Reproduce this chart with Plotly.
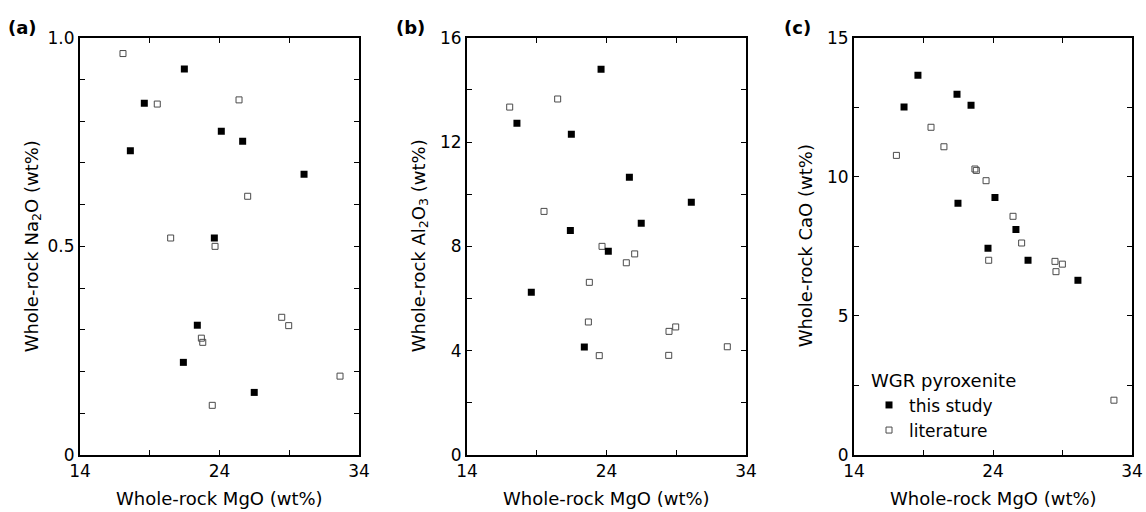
import plotly.graph_objects as go

# Whole-rock MgO (wt%) and oxide contents, WGR pyroxenites
# (a) Na2O
na_study_mgo = [21.48, 18.61, 17.61, 24.13, 25.66, 30.06, 23.63, 22.41, 21.41, 26.49]
na_study_val = [0.925, 0.843, 0.729, 0.776, 0.752, 0.673, 0.520, 0.311, 0.222, 0.150]
na_lit_mgo = [17.08, 19.54, 25.40, 26.02, 20.50, 23.68, 28.46, 28.96, 22.70, 22.80, 32.64, 23.48]
na_lit_val = [0.962, 0.841, 0.851, 0.620, 0.520, 0.500, 0.330, 0.310, 0.280, 0.270, 0.189, 0.119]

# (b) Al2O3
al_study_mgo = [23.61, 17.58, 21.48, 25.64, 30.08, 26.49, 21.41, 24.13, 18.61, 22.41]
al_study_val = [14.79, 12.72, 12.30, 10.65, 9.69, 8.89, 8.61, 7.81, 6.24, 4.14]
al_lit_mgo = [17.06, 20.50, 19.52, 23.68, 25.42, 26.02, 22.77, 22.70, 28.48, 28.96, 23.48, 28.46, 32.66]
al_lit_val = [13.34, 13.65, 9.34, 8.00, 7.37, 7.71, 6.62, 5.10, 4.74, 4.91, 3.81, 3.82, 4.15]

# (c) CaO
ca_study_mgo = [18.60, 17.60, 21.41, 22.42, 24.14, 21.48, 25.65, 23.64, 26.52, 30.11]
ca_study_val = [13.65, 12.51, 12.97, 12.57, 9.26, 9.05, 8.11, 7.43, 7.00, 6.28]
ca_lit_mgo = [17.05, 19.54, 20.47, 22.70, 22.80, 23.50, 25.44, 26.06, 23.69, 28.46, 28.99, 28.53, 32.70]
ca_lit_val = [10.77, 11.78, 11.08, 10.28, 10.23, 9.86, 8.58, 7.62, 7.00, 6.96, 6.86, 6.59, 1.97]

x_ticks = [14, 19, 24, 29, 34]
x_ticktext = ["14", "", "24", "", "34"]

na_ticks = [0, 0.1, 0.2, 0.3, 0.4, 0.5, 0.6, 0.7, 0.8, 0.9, 1.0]
na_ticktext = ["0", "", "", "", "", "0.5", "", "", "", "", "1.0"]
al_ticks = [0, 2, 4, 6, 8, 10, 12, 14, 16]
al_ticktext = ["0", "", "4", "", "8", "", "12", "", "16"]
ca_ticks = [0, 2.5, 5, 7.5, 10, 12.5, 15]
ca_ticktext = ["0", "", "5", "", "10", "", "15"]

FONT = "DejaVu Sans"
FS = 18       # titles and legend title
FS_TICK = 17  # tick labels and legend entries
W, H = 1146, 512

study_marker = dict(symbol="square", size=7, color="black", line=dict(width=0))
lit_marker = dict(symbol="square-open", size=6, color="#4a4a4a", line=dict(width=1, color="#4a4a4a"))

fig = go.Figure()

panels = [
    ("x", "y", na_study_mgo, na_study_val, na_lit_mgo, na_lit_val, False),
    ("x2", "y2", al_study_mgo, al_study_val, al_lit_mgo, al_lit_val, False),
    ("x3", "y3", ca_study_mgo, ca_study_val, ca_lit_mgo, ca_lit_val, True),
]
for xa, ya, sx, sy, lx, ly, show in panels:
    fig.add_trace(go.Scatter(x=lx, y=ly, mode="markers", marker=lit_marker,
                             name="literature", xaxis=xa, yaxis=ya,
                             showlegend=show, legendrank=2))
    fig.add_trace(go.Scatter(x=sx, y=sy, mode="markers", marker=study_marker,
                             name="this study", xaxis=xa, yaxis=ya,
                             showlegend=show, legendrank=1))

x_domains = [(80 / W, 359 / W), (467 / W, 746 / W), (854 / W, 1132 / W)]
y_domain = [1 - 455 / H, 1 - 37.7 / H]

common_axis = dict(
    showgrid=False, zeroline=False, showline=True, linecolor="black", linewidth=2,
    mirror="ticks", ticks="inside", ticklen=5, tickwidth=1, tickcolor="black",
    tickfont=dict(family=FONT, size=FS_TICK, color="black"), automargin=False,
)

y_specs = [
    ([0, 1.0], na_ticks, na_ticktext),
    ([0, 16], al_ticks, al_ticktext),
    ([0, 15], ca_ticks, ca_ticktext),
]

layout_axes = {}
for i, (dom, (yr, yt, ytt)) in enumerate(zip(x_domains, y_specs), start=1):
    sfx = "" if i == 1 else str(i)
    layout_axes["xaxis" + sfx] = dict(
        common_axis, domain=list(dom), range=[14, 34], tickmode="array",
        tickvals=x_ticks, ticktext=x_ticktext, anchor="y" + sfx,
    )
    layout_axes["yaxis" + sfx] = dict(
        common_axis, domain=y_domain, range=yr, tickmode="array",
        tickvals=yt, ticktext=ytt, anchor="x" + sfx,
    )

fig.update_layout(**layout_axes)


def label(text, xpx, ypx, angle=0, bold=False):
    return dict(text="<b>%s</b>" % text if bold else text,
                x=xpx / W, y=1 - ypx / H, xref="paper", yref="paper",
                xanchor="center", yanchor="middle", showarrow=False,
                textangle=angle, font=dict(family=FONT, size=FS, color="black"))


annotations = []
# panel letters
for txt, xc in [("(a)", 22), ("(b)", 410), ("(c)", 797)]:
    annotations.append(label(txt, xc, 27, bold=True))
# x-axis titles
for dom in x_domains:
    annotations.append(label("Whole-rock MgO (wt%)", (dom[0] + dom[1]) / 2 * W, 498))
# y-axis titles
y_mid = (455 + 37.7) / 2
for txt, xc in [("Whole-rock Na<sub>2</sub>O (wt%)", 33),
                ("Whole-rock Al<sub>2</sub>O<sub>3</sub> (wt%)", 420),
                ("Whole-rock CaO (wt%)", 805)]:
    annotations.append(label(txt, xc, y_mid, angle=-90))

fig.update_layout(
    width=W, height=H,
    margin=dict(l=0, r=0, t=0, b=0),
    paper_bgcolor="white", plot_bgcolor="white",
    annotations=annotations,
    legend=dict(
        x=869 / W, y=1 - 364 / H, xanchor="left", yanchor="top",
        title=dict(text="WGR pyroxenite", font=dict(family=FONT, size=FS, color="black")),
        font=dict(family=FONT, size=FS_TICK, color="black"),
        bgcolor="rgba(0,0,0,0)", borderwidth=0, itemwidth=30, tracegroupgap=0,
    ),
)

fig.write_html("out.html")
